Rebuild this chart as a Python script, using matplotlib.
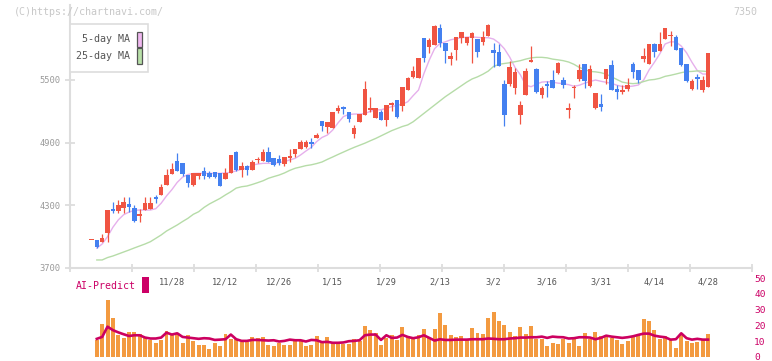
import numpy as np
import matplotlib
matplotlib.use("Agg")
import matplotlib.pyplot as plt
from matplotlib.patches import Rectangle

nan = np.nan

# daily candles (open / high / low / close)
opens = [3965, 3968, 3952, 4038, 4265, 4249, 4271, 4313, 4274, 4202,
         4255, 4265, 4383, 4399, 4498, 4603, 4721, 4705, 4590, 4495,
         4581, 4629, 4606, 4619, 4606, 4549, 4606, 4811, 4641, 4677,
         4638, 4732, 4724, 4811, 4750, 4740, 4699, 4756, 4791, 4842,
         4858, 4896, 4948, 5107, 5050, 5040, 5203, 5241, 5197, 4986,
         5101, 5168, 5217, 5139, 5197, 5117, 5265, 5308, 5254, 5407,
         5529, 5522, 5905, 5819, 5838, 5995, 5854, 5701, 5790, 5905,
         5851, 5905, 5892, 5867, 5921, 5790, 5768, 5462, 5462, 5426,
         5165, 5356, 5675, 5608, 5356, 5462, 5500, 5564, 5500, 5217,
         5424, 5509, 5653, 5445, 5235, 5270, 5509, 5644, 5413, 5389,
         5417, 5653, 5596, 5704, 5653, 5845, 5780, 5889, 5919, 5912,
         5809, 5653, 5417, 5529, 5404, 5436]
highs = [3970, 3968, 4022, 4255, 4335, 4351, 4377, 4383, 4303, 4265,
         4377, 4377, 4396, 4504, 4651, 4708, 4804, 4705, 4590, 4606,
         4610, 4664, 4629, 4619, 4606, 4657, 4782, 4823, 4715, 4689,
         4734, 4766, 4836, 4855, 4750, 4782, 4760, 4836, 4839, 4925,
         4925, 4942, 4989, 5107, 5098, 5190, 5260, 5251, 5197, 5069,
         5174, 5487, 5340, 5229, 5213, 5260, 5292, 5308, 5430, 5532,
         5634, 5714, 5905, 5905, 6029, 6036, 5854, 5771, 5912, 5959,
         5912, 5963, 5892, 5972, 6039, 5851, 5845, 5500, 5682, 5612,
         5299, 5618, 5825, 5618, 5445, 5494, 5596, 5675, 5532, 5276,
         5452, 5650, 5653, 5644, 5375, 5363, 5605, 5692, 5452, 5452,
         5522, 5669, 5596, 5809, 5845, 5854, 5963, 6001, 5969, 5931,
         5809, 5653, 5506, 5554, 5535, 5755]
lows = [3965, 3888, 3952, 3952, 4230, 4230, 4230, 4239, 4143, 4143,
        4255, 4265, 4319, 4399, 4498, 4603, 4632, 4581, 4479, 4485,
        4549, 4552, 4558, 4558, 4488, 4549, 4606, 4629, 4568, 4594,
        4638, 4708, 4724, 4718, 4677, 4686, 4677, 4718, 4766, 4842,
        4846, 4852, 4948, 5015, 4996, 5040, 5187, 5171, 5098, 4948,
        5101, 5168, 5197, 5133, 5117, 5063, 5206, 5139, 5206, 5407,
        5516, 5522, 5675, 5755, 5838, 5819, 5666, 5644, 5692, 5851,
        5835, 5660, 5723, 5835, 5921, 5628, 5634, 5063, 5442, 5369,
        5082, 5356, 5675, 5372, 5331, 5340, 5420, 5558, 5426, 5139,
        5325, 5490, 5426, 5436, 5222, 5206, 5458, 5407, 5318, 5363,
        5395, 5522, 5474, 5669, 5653, 5717, 5780, 5889, 5828, 5790,
        5634, 5484, 5404, 5417, 5388, 5436]
closes = [3970, 3904, 3987, 4255, 4249, 4303, 4332, 4287, 4153, 4206,
          4319, 4322, 4364, 4475, 4594, 4648, 4632, 4600, 4517, 4606,
          4610, 4584, 4568, 4574, 4488, 4610, 4782, 4638, 4677, 4638,
          4712, 4736, 4807, 4718, 4686, 4708, 4760, 4769, 4839, 4906,
          4906, 4890, 4970, 5059, 5098, 5190, 5232, 5222, 5130, 5037,
          5174, 5414, 5221, 5229, 5117, 5260, 5269, 5149, 5430, 5516,
          5586, 5714, 5714, 5883, 6020, 5851, 5780, 5730, 5912, 5959,
          5912, 5950, 5771, 5912, 6029, 5761, 5634, 5165, 5628, 5573,
          5261, 5589, 5692, 5388, 5420, 5439, 5420, 5663, 5452, 5221,
          5428, 5596, 5493, 5605, 5375, 5244, 5605, 5407, 5388, 5393,
          5452, 5573, 5503, 5733, 5845, 5765, 5845, 5995, 5923, 5790,
          5644, 5493, 5490, 5506, 5500, 5755]

ma5 = [nan, 3890, 3930, 4000, 4090, 4160, 4210, 4235, 4252, 4255,
       4255, 4255, 4268, 4320, 4390, 4450, 4520, 4570, 4595, 4605,
       4606, 4606, 4606, 4606, 4606, 4610, 4616, 4630, 4645, 4655,
       4686, 4695, 4702, 4702, 4702, 4710, 4718, 4735, 4750, 4782,
       4820, 4855, 4910, 4950, 4973, 5021, 5090, 5150, 5170, 5174,
       5174, 5178, 5200, 5213, 5215, 5228, 5245, 5258, 5268, 5292,
       5350, 5404, 5560, 5690, 5800, 5850, 5865, 5885, 5895, 5905,
       5910, 5912, 5908, 5905, 5905, 5892, 5855, 5800, 5720, 5620,
       5550, 5450, 5436, 5460, 5480, 5484, 5480, 5470, 5465, 5455,
       5440, 5450, 5470, 5485, 5500, 5488, 5478, 5468, 5450, 5438,
       5436, 5442, 5452, 5500, 5596, 5670, 5750, 5845, 5865, 5865,
       5825, 5760, 5670, 5590, 5557, 5557]
ma25 = [nan, 3777, 3777, 3800, 3815, 3834, 3853, 3872, 3892, 3911,
        3930, 3952, 3984, 4016, 4054, 4083, 4112, 4145, 4176, 4214,
        4239, 4280, 4313, 4340, 4367, 4400, 4430, 4465, 4478, 4485,
        4500, 4517, 4535, 4559, 4575, 4590, 4610, 4635, 4655, 4667,
        4680, 4688, 4700, 4715, 4740, 4763, 4787, 4810, 4833, 4855,
        4875, 4895, 4918, 4940, 4965, 4990, 5015, 5035, 5055, 5070,
        5100, 5140, 5180, 5220, 5260, 5300, 5340, 5375, 5410, 5445,
        5480, 5510, 5530, 5555, 5585, 5630, 5650, 5658, 5665, 5675,
        5685, 5700, 5712, 5717, 5717, 5712, 5700, 5693, 5685, 5672,
        5650, 5620, 5600, 5582, 5578, 5570, 5556, 5530, 5505, 5480,
        5470, 5465, 5470, 5485, 5500, 5505, 5516, 5535, 5545, 5557,
        5570, 5580, 5582, 5587, 5585, 5580]

# lower panel (starts with the 2nd candle)
ai_volume = [10.8, 20.6, 35.8, 24.4, 14, 12.3, 15.8, 15.8, 14.4, 12.5,
             10.6, 8.75, 10.8, 16.3, 14, 15.4, 8.75, 13.75, 10.2, 7.5,
             7.5, 5, 8.75, 7.1, 14.4, 11.25, 11.25, 9.2, 9.6, 12.5,
             11.9, 12.5, 7.5, 7.1, 8.75, 7.5, 7.5, 10.2, 10.2, 7.1,
             7.5, 13.1, 9.6, 12.5, 8.75, 8.75, 8.1, 8.1, 11.25, 10.2,
             19.4, 16.9, 15, 7.5, 12.1, 13.75, 10.6, 18.75, 13.3, 12.3,
             13.75, 17.5, 12.3, 17.5, 28.1, 20, 13.75, 12.5, 13.3, 11.25,
             18.1, 15, 14.6, 25, 28.75, 22.5, 20, 15.6, 13.1, 18.75,
             14.4, 19.6, 11.25, 11.25, 7.1, 8.75, 8.1, 11.25, 9, 11.25,
             6.9, 15, 11.25, 15.8, 13.1, 13.75, 12.3, 10.8, 8.1, 10,
             12.5, 13.75, 23.75, 22.5, 16.9, 11.25, 13.1, 11.25, 5.6, 13.75,
             10.2, 8.75, 9.4, 10.6, 14.4]
ai_predict = [11.5, 12.7, 19.2, 17, 15.6, 14.4, 13.3, 13.75, 13.75, 12.3,
              11.7, 11.7, 12.3, 15.4, 14.2, 15, 12.7, 12.3, 11.9, 11.5,
              11.9, 11.7, 10.8, 11, 11.25, 14.2, 11.25, 10.2, 10.2, 10.8,
              10.8, 10.6, 10.4, 10.6, 9.8, 10.2, 11, 10.6, 10.6, 9.8,
              10.8, 10.6, 9.4, 9.6, 9, 9, 9.2, 10, 10.2, 10.6,
              13.75, 14.2, 14.2, 10.8, 13.75, 12.1, 12.3, 14, 12.7, 11.9,
              12.5, 13.75, 12.1, 10.4, 11.25, 10.8, 10.8, 11, 11, 11,
              11.25, 11.25, 11.25, 11.7, 11.5, 11.25, 11.25, 11.7, 11.9, 12.3,
              12.3, 12.5, 12.5, 12.9, 12.1, 12.9, 12.6, 12.5, 11.7, 11.9,
              12.5, 12.5, 12.3, 11.25, 12.1, 13.5, 12.9, 12.5, 12.1, 12.5,
              13.1, 14, 14.8, 14.8, 13.5, 12.9, 12.5, 11, 11.25, 15,
              11.9, 11, 11.5, 11, 11]

date_labels = ['11/28', '12/12', '12/26', '1/15', '1/29', '2/13',
               '3/2', '3/16', '3/31', '4/14', '4/28']
date_idx = [15, 25, 35, 45, 55, 65, 75, 85, 95, 105, 115]
price_ticks = [3700, 4300, 4900, 5500]
ai_ticks = [0, 10, 20, 30, 40, 50]

MONO = 'DejaVu Sans Mono'
RED, BLUE = '#f05442', '#4480f0'
W, H = 772, 361

fig = plt.figure(figsize=(W / 100, H / 100), dpi=100)

def box(l, t, r, b):
    return [l / W, 1 - b / H, (r - l) / W, (b - t) / H]

def fx(px):
    return px / W

def fy(py):
    return 1 - py / H

ax = fig.add_axes(box(70, 5, 752, 268))
ax2 = fig.add_axes(box(70, 278, 752, 357))
ax2.patch.set_visible(False)

o = np.array(opens, float)
c = np.array(closes, float)
x = np.arange(len(o))
cols = [RED if cc >= oo else BLUE for oo, cc in zip(o, c)]

ax.vlines(x, lows, highs, colors=cols, lw=0.9, zorder=2)
ax.bar(x, np.maximum(np.abs(c - o), 12), bottom=np.minimum(o, c), width=0.84,
       color=cols, linewidth=0, zorder=3)
ax.plot(x, ma5, color='#e6b0ec', lw=1.0, zorder=1)
ax.plot(x, ma25, color='#b6dca8', lw=1.0, zorder=1)

xlim = (-4.0, 123.2)
ax.set_xlim(*xlim)
ax.set_ylim(3700, 6218)
for s in ['top', 'right']:
    ax.spines[s].set_visible(False)
for s in ['left', 'bottom']:
    ax.spines[s].set_color('#dddddd')
    ax.spines[s].set_linewidth(1.5)
ax.set_yticks(price_ticks)
ax.tick_params(axis='y', direction='inout', length=7.2, width=1.3, color='#dddddd',
               labelsize=6.3, labelcolor='#999999', pad=3.5)
ax.set_xticks(date_idx)
ax.set_xticklabels(date_labels)
ax.set_xticks(np.linspace(xlim[0], xlim[1], 12), minor=True)
ax.tick_params(axis='x', which='major', length=0, labelsize=6.2, labelcolor='#555555', pad=7)
ax.tick_params(axis='x', which='minor', direction='inout', length=6, width=1.3, color='#dddddd')
for lab in ax.get_xticklabels() + ax.get_yticklabels():
    lab.set_family(MONO)

# AI panel
x2 = np.arange(1, len(ai_volume) + 1)
ax2.bar(x2, ai_volume, width=0.74, color='#f39a40', linewidth=0, zorder=1)
ax2.plot(x2, ai_predict, color='#cc0060', lw=1.9, zorder=2)
ax2.set_xlim(*xlim)
ax2.set_ylim(0, 50)
for s in ax2.spines.values():
    s.set_visible(False)
ax2.set_xticks([])
ax2.yaxis.tick_right()
ax2.set_yticks(ai_ticks)
ax2.tick_params(axis='y', length=0, pad=1.5, labelsize=6.8, labelcolor='#cc0066')
for lab in ax2.get_yticklabels():
    lab.set_family(MONO)

# header texts
fig.text(fx(14), fy(12), '(C)https://chartnavi.com/', family=MONO, fontsize=7.2,
         color='#c8c8c8', va='center', ha='left')
fig.text(fx(757), fy(12), '7350', family=MONO, fontsize=7.2,
         color='#c8c8c8', va='center', ha='right')

# legend box
fig.patches.append(Rectangle((fx(70), fy(72)), fx(78), 48 / H, transform=fig.transFigure,
                             facecolor='white', edgecolor='#dddddd', lw=1.2, zorder=5))
for label, col, yc in [('5-day MA', '#f0b8f0', 39.5), ('25-day MA', '#b8e0a8', 56)]:
    fig.text(fx(130), fy(yc), label, family=MONO, fontsize=7.2, color='#555555',
             ha='right', va='center', zorder=6)
    fig.patches.append(Rectangle((fx(136.5), fy(yc + 7.5)), fx(5.5), 15 / H,
                                 transform=fig.transFigure, facecolor=col,
                                 edgecolor='#555555', lw=0.9, zorder=6))

fig.text(fx(76), fy(286), 'AI-Predict', family=MONO, fontsize=7.1, color='#cc0066',
         ha='left', va='center')
fig.patches.append(Rectangle((fx(142), fy(293)), fx(6.5), 16 / H, transform=fig.transFigure,
                             facecolor='#cc0066', edgecolor='none', zorder=5))

fig.savefig('out.png', dpi=100)
